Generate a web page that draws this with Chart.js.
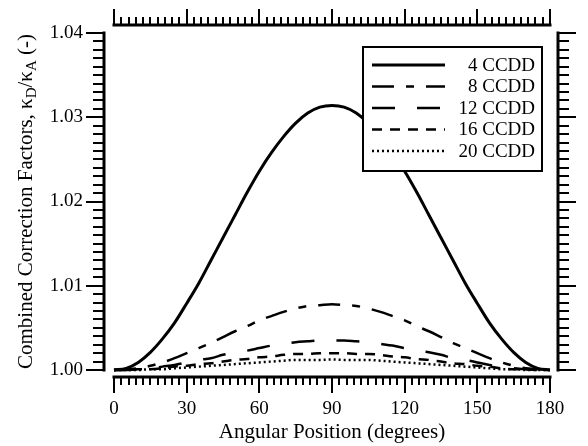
<!DOCTYPE html>
<html>
<head>
<meta charset="utf-8">
<script src="https://cdn.jsdelivr.net/npm/chart.js@4"></script>
<style>
    body { margin: 0; background: #fff; }
    #wrap { width: 588px; height: 446px; }
</style>
</head>
<body>
<div id="wrap"><canvas id="corrChart" width="588" height="446"></canvas></div>
<script>
/*
 * 보정계수 차트 데이터
 */
const angles = [0, 5, 10, 15, 20, 25, 30, 35, 40, 45, 50, 55, 60, 65, 70, 75, 80, 85, 90,
    95, 100, 105, 110, 115, 120, 125, 130, 135, 140, 145, 150, 155, 160, 165, 170, 175, 180];

const ccdd4 = [1.0000, 1.0002, 1.0009, 1.0021, 1.0037, 1.0056, 1.0079, 1.0103, 1.0130, 1.0157,
    1.0184, 1.0211, 1.0236, 1.0258, 1.0277, 1.0293, 1.0305, 1.0312, 1.0314,
    1.0312, 1.0305, 1.0293, 1.0277, 1.0258, 1.0236, 1.0211, 1.0184, 1.0157, 1.0130,
    1.0103, 1.0079, 1.0056, 1.0037, 1.0021, 1.0009, 1.0002, 1.0000];

const ccdd8 = [1.0000, 1.0001, 1.0002, 1.0005, 1.0009, 1.0014, 1.0020, 1.0026, 1.0032, 1.0039,
    1.0046, 1.0052, 1.0059, 1.0064, 1.0069, 1.0073, 1.0076, 1.0077, 1.0078,
    1.0077, 1.0076, 1.0073, 1.0069, 1.0064, 1.0059, 1.0052, 1.0046, 1.0039, 1.0032,
    1.0026, 1.0020, 1.0014, 1.0009, 1.0005, 1.0002, 1.0001, 1.0000];

const ccdd12 = [1.0000, 1.0000, 1.0001, 1.0002, 1.0004, 1.0006, 1.0009, 1.0012, 1.0014, 1.0018,
    1.0021, 1.0023, 1.0026, 1.0029, 1.0031, 1.0033, 1.0034, 1.0035, 1.0035,
    1.0035, 1.0034, 1.0033, 1.0031, 1.0029, 1.0026, 1.0023, 1.0021, 1.0018, 1.0014,
    1.0012, 1.0009, 1.0006, 1.0004, 1.0002, 1.0001, 1.0000, 1.0000];

const ccdd16 = [1.0000, 1.0000, 1.0001, 1.0001, 1.0002, 1.0004, 1.0005, 1.0007, 1.0008, 1.0010,
    1.0012, 1.0013, 1.0015, 1.0016, 1.0018, 1.0019, 1.0019, 1.0020, 1.0020,
    1.0020, 1.0019, 1.0019, 1.0018, 1.0016, 1.0015, 1.0013, 1.0012, 1.0010, 1.0008,
    1.0007, 1.0005, 1.0004, 1.0002, 1.0001, 1.0001, 1.0000, 1.0000];

const ccdd20 = [1.0000, 1.0000, 1.0000, 1.0001, 1.0001, 1.0002, 1.0003, 1.0004, 1.0005, 1.0006,
    1.0007, 1.0008, 1.0009, 1.0010, 1.0011, 1.0012, 1.0012, 1.0012, 1.00125,
    1.0012, 1.0012, 1.0012, 1.0011, 1.0010, 1.0009, 1.0008, 1.0007, 1.0006, 1.0005,
    1.0004, 1.0003, 1.0002, 1.0001, 1.0001, 1.0000, 1.0000, 1.0000];

const seriesNames = ['4 CCDD', '8 CCDD', '12 CCDD', '16 CCDD', '20 CCDD'];
const xTickLabels = ['0', '30', '60', '90', '120', '150', '180'];
const yTickLabels = ['1.00', '1.01', '1.02', '1.03', '1.04'];

const SERIF = '"Liberation Serif", "Times New Roman", serif';

// 선 스타일 (순서대로 4, 8, 12, 16, 20 CCDD)
const lineStyles = [
    { width: 3, dash: [] },
    { width: 2.5, dash: [22, 12, 8, 12] },
    { width: 2.5, dash: [23, 22] },
    { width: 2.5, dash: [10, 8] },
    { width: 2.5, dash: [2, 3] }
];

/*
 * 각도/값 배열을 {x, y} 포인트로 변환
 */
const toPoints = function (values) {
    return angles.map((a, i) => ({ x: a, y: values[i] }));
};

/*
 * 플롯 영역에서 떨어진 축선과 눈금(주/보조) 그리기
 */
const offsetAxes = {
    id: 'offsetAxes',
    afterDraw(chart) {
        const ctx = chart.ctx;
        const area = chart.chartArea;
        const xs = chart.scales.x;
        const ys = chart.scales.y;

        const leftX = area.left - 10;
        const rightX = area.right + 8;
        const topY = area.top - 8;
        const botY = area.bottom + 7;

        ctx.save();
        ctx.strokeStyle = '#000';
        ctx.lineCap = 'butt';

        // 축선
        ctx.lineWidth = 3;
        ctx.beginPath();
        ctx.moveTo(leftX, ys.getPixelForValue(1.04) - 1.5);
        ctx.lineTo(leftX, ys.getPixelForValue(1.00) + 1.5);
        ctx.moveTo(rightX, ys.getPixelForValue(1.04) - 1.5);
        ctx.lineTo(rightX, ys.getPixelForValue(1.00) + 1.5);
        ctx.moveTo(xs.getPixelForValue(0) - 1.5, topY);
        ctx.lineTo(xs.getPixelForValue(180) + 1.5, topY);
        ctx.moveTo(xs.getPixelForValue(0) - 1.5, botY);
        ctx.lineTo(xs.getPixelForValue(180) + 1.5, botY);
        ctx.stroke();

        // x 눈금: 3도 간격, 30도마다 주눈금
        ctx.lineWidth = 2;
        ctx.beginPath();
        for (let k = 0; k <= 60; k++) {
            const px = Math.round(xs.getPixelForValue(k * 3));
            const len = (k % 10 === 0) ? 16 : 8;
            ctx.moveTo(px, botY);
            ctx.lineTo(px, botY + len);
            ctx.moveTo(px, topY);
            ctx.lineTo(px, topY - len);
        }
        // y 눈금: 0.001 간격, 0.01마다 주눈금
        for (let k = 0; k <= 40; k++) {
            const py = Math.round(ys.getPixelForValue(1 + k * 0.001));
            const len = (k % 10 === 0) ? 18 : 11;
            ctx.moveTo(leftX, py);
            ctx.lineTo(leftX - len, py);
            ctx.moveTo(rightX, py);
            ctx.lineTo(rightX + len, py);
        }
        ctx.stroke();

        // y축 제목 (아래첨자 포함)
        const parts = [
            { t: 'Combined Correction Factors, \u03BA', sub: false },
            { t: 'D', sub: true },
            { t: '/\u03BA', sub: false },
            { t: 'A', sub: true },
            { t: ' (-)', sub: false }
        ];
        const mainFont = '21px ' + SERIF;
        const subFont = '15px ' + SERIF;
        let total = 0;
        parts.forEach(p => {
            ctx.font = p.sub ? subFont : mainFont;
            total += ctx.measureText(p.t).width;
        });
        ctx.translate(26, (area.top + area.bottom) / 2);
        ctx.rotate(-Math.PI / 2);
        ctx.fillStyle = '#000';
        ctx.textBaseline = 'middle';
        ctx.textAlign = 'left';
        let cx = -total / 2;
        parts.forEach(p => {
            ctx.font = p.sub ? subFont : mainFont;
            ctx.fillText(p.t, cx, p.sub ? 6 : 0);
            cx += ctx.measureText(p.t).width;
        });
        ctx.restore();
    }
};

/*
 * 흰 배경 범례 박스 (오른쪽 정렬 텍스트)
 */
const boxLegend = {
    id: 'boxLegend',
    afterDatasetsDraw(chart) {
        const ctx = chart.ctx;
        const bx = 363, by = 47, bw = 179, bh = 124;
        ctx.save();
        ctx.fillStyle = '#fff';
        ctx.fillRect(bx, by, bw, bh);
        ctx.strokeStyle = '#000';
        ctx.lineWidth = 2;
        ctx.strokeRect(bx, by, bw, bh);

        ctx.font = '19px ' + SERIF;
        ctx.textAlign = 'right';
        ctx.textBaseline = 'middle';
        ctx.fillStyle = '#000';
        seriesNames.forEach((name, i) => {
            const y = by + 18 + i * 21.5;
            ctx.lineWidth = lineStyles[i].width;
            ctx.setLineDash(lineStyles[i].dash);
            ctx.beginPath();
            ctx.moveTo(372, y);
            ctx.lineTo(445, y);
            ctx.stroke();
            ctx.setLineDash([]);
            ctx.fillText(name, 535, y + 1);
        });
        ctx.restore();
    }
};

// 눈금선은 보이지 않게 하고, 라벨 간격만 tickLength 로 확보
const hiddenGrid = function (gap) {
    return {
        display: true,
        color: 'rgba(0,0,0,0)',
        drawOnChartArea: false,
        drawTicks: true,
        tickLength: gap
    };
};

document.addEventListener('DOMContentLoaded', function () {
    const ctx = document.getElementById('corrChart').getContext('2d');
    const allSeries = [ccdd4, ccdd8, ccdd12, ccdd16, ccdd20];

    new Chart(ctx, {
        type: 'line',
        data: {
            datasets: allSeries.map((vals, i) => ({
                label: seriesNames[i],
                data: toPoints(vals),
                borderColor: '#000',
                borderWidth: lineStyles[i].width,
                borderDash: lineStyles[i].dash,
                pointRadius: 0,
                fill: false,
                cubicInterpolationMode: 'monotone',
                clip: 6
            }))
        },
        plugins: [offsetAxes, boxLegend],
        options: {
            responsive: false,
            animation: false,
            layout: {
                padding: { top: 33, right: 38, left: 0, bottom: 0 }
            },
            plugins: {
                legend: { display: false },
                tooltip: { enabled: false }
            },
            scales: {
                x: {
                    type: 'linear',
                    min: 0,
                    max: 180,
                    border: { display: false },
                    grid: hiddenGrid(24),
                    ticks: {
                        stepSize: 30,
                        padding: 4,
                        color: '#000',
                        font: { family: SERIF, size: 19 },
                        maxRotation: 0,
                        callback: (v, i) => xTickLabels[i]
                    },
                    title: {
                        display: true,
                        text: 'Angular Position (degrees)',
                        color: '#000',
                        font: { family: SERIF, size: 21 },
                        padding: { top: 0, bottom: 1 }
                    },
                    afterFit: (scale) => { scale.height = 76; }
                },
                y: {
                    min: 1.0,
                    max: 1.04,
                    border: { display: false },
                    grid: hiddenGrid(27),
                    ticks: {
                        stepSize: 0.01,
                        padding: 4,
                        color: '#000',
                        font: { family: SERIF, size: 19 },
                        callback: (v, i) => yTickLabels[i]
                    },
                    afterFit: (scale) => { scale.width = 114; }
                }
            }
        }
    });
});
</script>
</body>
</html>
